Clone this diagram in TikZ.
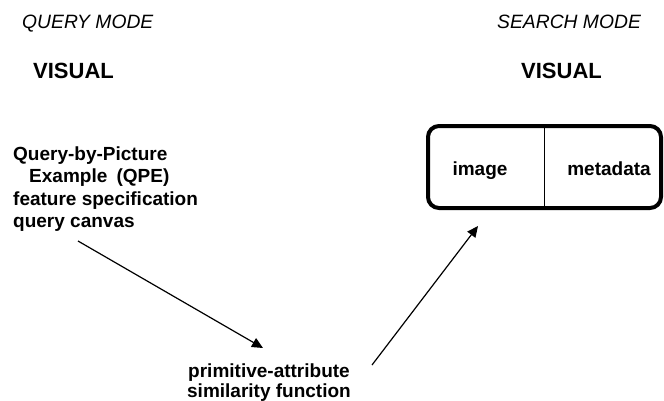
\documentclass[tikz,border=0pt]{standalone}
\usepackage{fontspec}
\setmainfont{Liberation Sans}
\usetikzlibrary{arrows.meta}
\tikzset{
  hdr/.style={font=\fontsize{19.3}{22}\selectfont\itshape, inner sep=0pt, anchor=base west},
  big/.style={font=\fontsize{22}{26}\selectfont\bfseries, inner sep=0pt, anchor=base west},
  lbl/.style={font=\fontsize{19}{22.5}\selectfont\bfseries, inner sep=0pt},
  conn/.style={line width=1.2pt, -{Triangle[length=11pt,width=10pt]}},
  frame/.style={line width=4pt, rounded corners=11pt},
}
\begin{document}
\begin{tikzpicture}[x=1pt,y=-1pt]
\useasboundingbox (0,0) rectangle (664,400);
\node[hdr] (qm) at (22,28) {QUERY MODE};
\node[hdr] (sm) at (497,28) {SEARCH MODE};
\node[big] (vl) at (33,78) {VISUAL};
\node[big] (vr) at (521,78) {VISUAL};
\node[lbl, align=left, anchor=base west] (qpe) at (13,227.5)
  {Query-by-Picture\\\hspace*{16pt}Example\hspace{4pt} (QPE)\\feature specification\\query canvas};
\node[lbl, align=center, anchor=base, font=\fontsize{19}{20}\selectfont\bfseries] (sim) at (269,397)
  {primitive-attribute\\similarity function};
\draw[frame] (428,126) rectangle (661,208);
\draw[line width=1pt] (544,126) -- (544,208);
\node[lbl, anchor=base] (img) at (480,175) {image};
\node[lbl, anchor=base] (meta) at (609,175) {metadata};
\coordinate (a1s) at (78,241);
\coordinate (a1e) at (263,348);
\coordinate (a2s) at (372,365);
\coordinate (a2e) at (478,226);
\draw[conn] (a1s) -- (a1e);
\draw[conn] (a2s) -- (a2e);
\end{tikzpicture}
\end{document}
